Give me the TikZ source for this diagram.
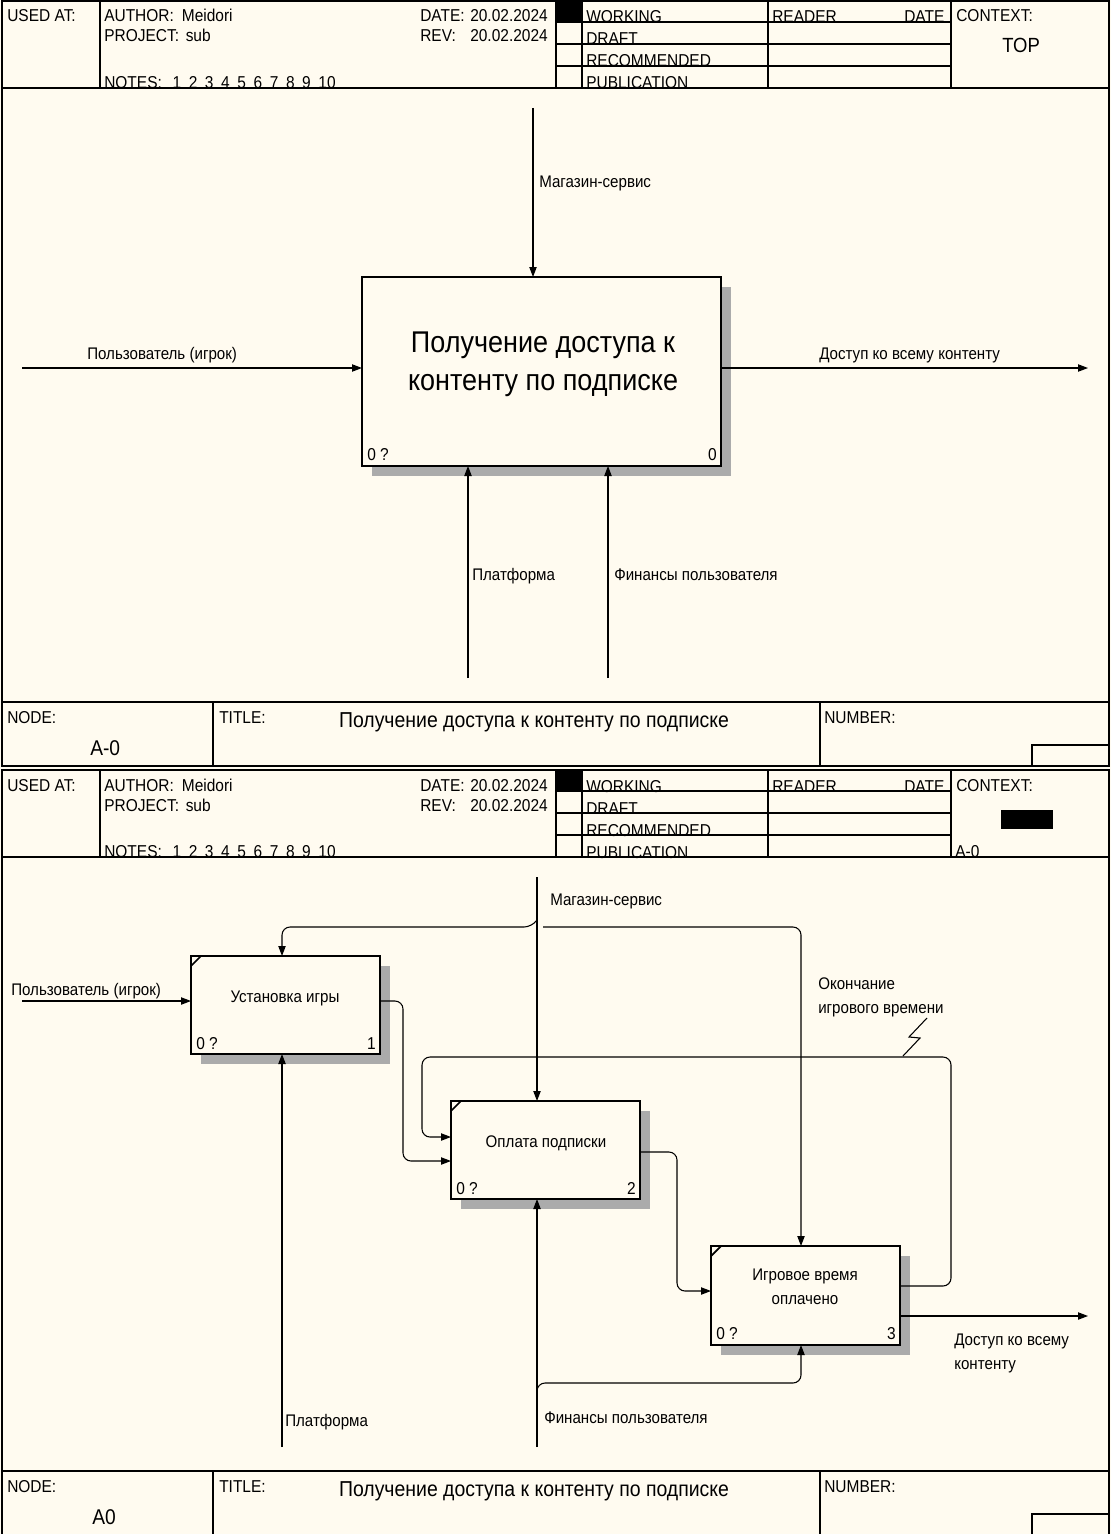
\documentclass[tikz,border=0pt]{standalone}
\usepackage{fontspec}
\setmainfont[FakeStretch=0.9]{Liberation Sans}
\usetikzlibrary{arrows.meta}
\definecolor{bg}{RGB}{255,251,240}
\newcommand\fs[1]{\fontsize{#1}{#1}\selectfont}
\newcommand\myframe{%
  \draw[fl] (2,1) rectangle (1109,766);
  \draw[fl] (2,88) -- (1109,88);
  \draw[fl] (2,702) -- (1109,702);
  \draw[il] (100,1) -- (100,88);
  \draw[il] (556,1) -- (556,88);
  \draw[il] (582,1) -- (582,88);
  \draw[il] (768,1) -- (768,88);
  \draw[il] (951,1) -- (951,88);
  \fill (557,1) rectangle (581,21);
  \node[t] at (7,22) {USED AT:};
  \node[t] at (104,22) {AUTHOR:\hspace{6pt}Meidori};
  \node[t] at (104,42) {PROJECT:\hspace{5pt}sub};
  \node[t] at (104,88.5) {NOTES:\hspace{8pt}1\hspace{5.7pt}2\hspace{5.7pt}3\hspace{5.7pt}4\hspace{5.7pt}5\hspace{5.7pt}6\hspace{5.7pt}7\hspace{5.7pt}8\hspace{5.7pt}9\hspace{5.7pt}10};
  \node[t] at (420,22) {DATE:};
  \node[t] at (470,22) {20.02.2024};
  \node[t] at (420,42) {REV:};
  \node[t] at (470,42) {20.02.2024};
  \node[t] at (586,23) {WORKING};
  \node[t] at (586,45) {DRAFT};
  \node[t] at (586,67) {RECOMMENDED};
  \node[t] at (586,89) {PUBLICATION};
  \node[t] at (772,23) {READER};
  \node[t] at (904,23) {DATE};
  \node[t] at (956,22) {CONTEXT:};
  \draw[il] (556,22) -- (951,22);
  \draw[il] (556,44) -- (951,44);
  \draw[il] (556,66) -- (951,66);
  \draw[fl] (2,88) -- (1109,88);
  \draw[il] (213,702) -- (213,766);
  \draw[il] (820,702) -- (820,766);
  \draw[il] (1032,766) -- (1032,745) -- (1109,745);
  \node[t] at (7,723) {NODE:};
  \node[t] at (219,723) {TITLE:};
  \node[t] at (824,723) {NUMBER:};
  \node[t, anchor=base, font=\fs{16.2pt}] at (534,727) {Получение доступа к контенту по подписке};
}
\begin{document}
\begin{tikzpicture}[x=0.75pt,y=-0.75pt,
  fl/.style={line width=1.1pt},
  il/.style={line width=0.8pt},
  t/.style={font=\fs{12.9pt}, inner sep=0pt, anchor=base west},
  lab/.style={font=\fs{12.6pt}, inner sep=0pt, anchor=base west},
  box/.style={draw, line width=2.2pt, fill=bg, inner sep=0pt, outer sep=0pt},
  arr/.style={line width=0.8pt, -{Triangle[length=7.5pt,width=5.5pt]}},
  ln/.style={line width=0.8pt},
  shd/.style={fill=black!33},
  rc/.style={rounded corners=6pt},
]
\fill[bg] (0,0) rectangle (1111,1534);
\useasboundingbox (0,0) rectangle (1111,1534);

% ---------- frame 1 ----------
\begin{scope}
  \myframe
  \node[t, font=\fs{15.4pt}] at (1002,53) {TOP};
  \node[t, font=\fs{16pt}] at (90,755) {A-0};
\end{scope}

% ---------- frame 2 ----------
\begin{scope}[shift={(0,769)}]
  \myframe
  \fill (1001,41) rectangle (1053,60);
  \node[t] at (955,88.5) {A-0};
  \node[t, font=\fs{16pt}] at (92,755) {A0};
\end{scope}

% ---------- diagram A-0 ----------
\fill[shd] (721,287) rectangle (731,476);
\fill[shd] (372,466) rectangle (731,476);
\node[box, minimum width=359*0.75pt, minimum height=189*0.75pt] (b0) at (541.5,371.5) {};
\node[align=center, inner sep=0pt, font=\fontsize{22.5pt}{28.5pt}\selectfont] (t0) at (543,364) {Получение доступа к\\контенту по подписке};
\node[t] (n0a) at (367,460) {0 ?};
\node[t, anchor=base east] (n0b) at (717,460) {0};

\coordinate (c0) at (533,108);
\coordinate (i0) at (22,368);
\coordinate (o0) at (1088,368);
\coordinate (m0a) at (468,678);
\coordinate (m0b) at (608,678);
\draw[arr] (c0) -- (c0 |- b0.north);
\draw[arr] (i0) -- (i0 -| b0.west);
\draw[arr] (o0 -| b0.east) -- (o0);
\draw[arr] (m0a) -- (m0a |- b0.south);
\draw[arr] (m0b) -- (m0b |- b0.south);
\node[lab] (l0a) at (539,188) {Магазин-сервис};
\node[lab] (l0b) at (87,359) {Пользователь (игрок)};
\node[lab] (l0c) at (819,359) {Доступ ко всему контенту};
\node[lab] (l0d) at (472,580) {Платформа};
\node[lab] (l0e) at (614,580) {Финансы пользователя};

% ---------- diagram A0 ----------
\fill[shd] (380,966) rectangle (390,1064);
\fill[shd] (201,1054) rectangle (390,1064);
\fill[shd] (640,1111) rectangle (650,1209);
\fill[shd] (461,1199) rectangle (650,1209);
\fill[shd] (900,1256) rectangle (910,1355);
\fill[shd] (721,1345) rectangle (910,1355);

\node[box, minimum width=189*0.75pt, minimum height=98*0.75pt] (b1) at (285.5,1005) {};
\node[box, minimum width=189*0.75pt, minimum height=98*0.75pt] (b2) at (545.5,1150) {};
\node[box, minimum width=189*0.75pt, minimum height=99*0.75pt] (b3) at (805.5,1295.5) {};
\foreach \b in {b1,b2,b3}{
  \draw[line width=1.3pt] ([yshift=-7.5pt]\b.north west) -- ([xshift=7.5pt]\b.north west);
}
\node[lab, anchor=base] (t1) at (285,1002) {Установка игры};
\node[lab, anchor=base] (t2) at (546,1147) {Оплата подписки};
\node[lab, anchor=base] (t3a) at (805,1280) {Игровое время};
\node[lab, anchor=base] (t3b) at (805,1304) {оплачено};
\node[t] (n1a) at (196,1049) {0 ?};
\node[t, anchor=base east] (n1b) at (376,1049) {1};
\node[t] (n2a) at (456,1194) {0 ?};
\node[t, anchor=base east] (n2b) at (636,1194) {2};
\node[t] (n3a) at (716,1339) {0 ?};
\node[t, anchor=base east] (n3b) at (896,1339) {3};

\coordinate (i1) at (22,1001);
\coordinate (c1) at (537,877);
\coordinate (o1) at (1088,1316);
\coordinate (m1a) at (282,1447);
\coordinate (m1b) at (537,1447);

\draw[arr] (i1) -- (i1 -| b1.west);
\draw[arr] (c1) -- (c1 |- b2.north);
\draw[arr, rc] (537,920) -- (532,927) -- (282,927) -- (282,927 |- b1.north);
\draw[arr, rc] (543,927) -- (801,927) -- (801,927 |- b3.north);
\draw[arr, rc] (b1.east |- 0,1001) -- (403,1001) -- (403,1161) -- (b2.west |- 0,1161);
\draw[arr, rc] (b3.east |- 0,1286) -- (951,1286) -- (951,1057) -- (422,1057) -- (422,1137) -- (b2.west |- 0,1137);
\draw[arr, rc] (b2.east |- 0,1152) -- (677,1152) -- (677,1291) -- (b3.west |- 0,1291);
\draw[arr] (b3.east |- 0,1316) -- (o1);
\draw[arr] (m1a) -- (m1a |- b1.south);
\draw[arr] (m1b) -- (m1b |- b2.south);
\draw[arr, rc] (537,1391) -- (537,1383) -- (801,1383) -- (801,1383 |- b3.south);
\draw[ln] (927,1018) -- (909,1037) -- (920,1038) -- (903,1056);

\node[lab] (l1a) at (11,995) {Пользователь (игрок)};
\node[lab] (l1b) at (550,905) {Магазин-сервис};
\node[lab] (l1c) at (818,989) {Окончание};
\node[lab] (l1d) at (818,1013) {игрового времени};
\node[lab] (l1e) at (954,1345) {Доступ ко всему};
\node[lab] (l1f) at (954,1369) {контенту};
\node[lab] (l1g) at (285,1426) {Платформа};
\node[lab] (l1h) at (544,1423) {Финансы пользователя};
\end{tikzpicture}
\end{document}
